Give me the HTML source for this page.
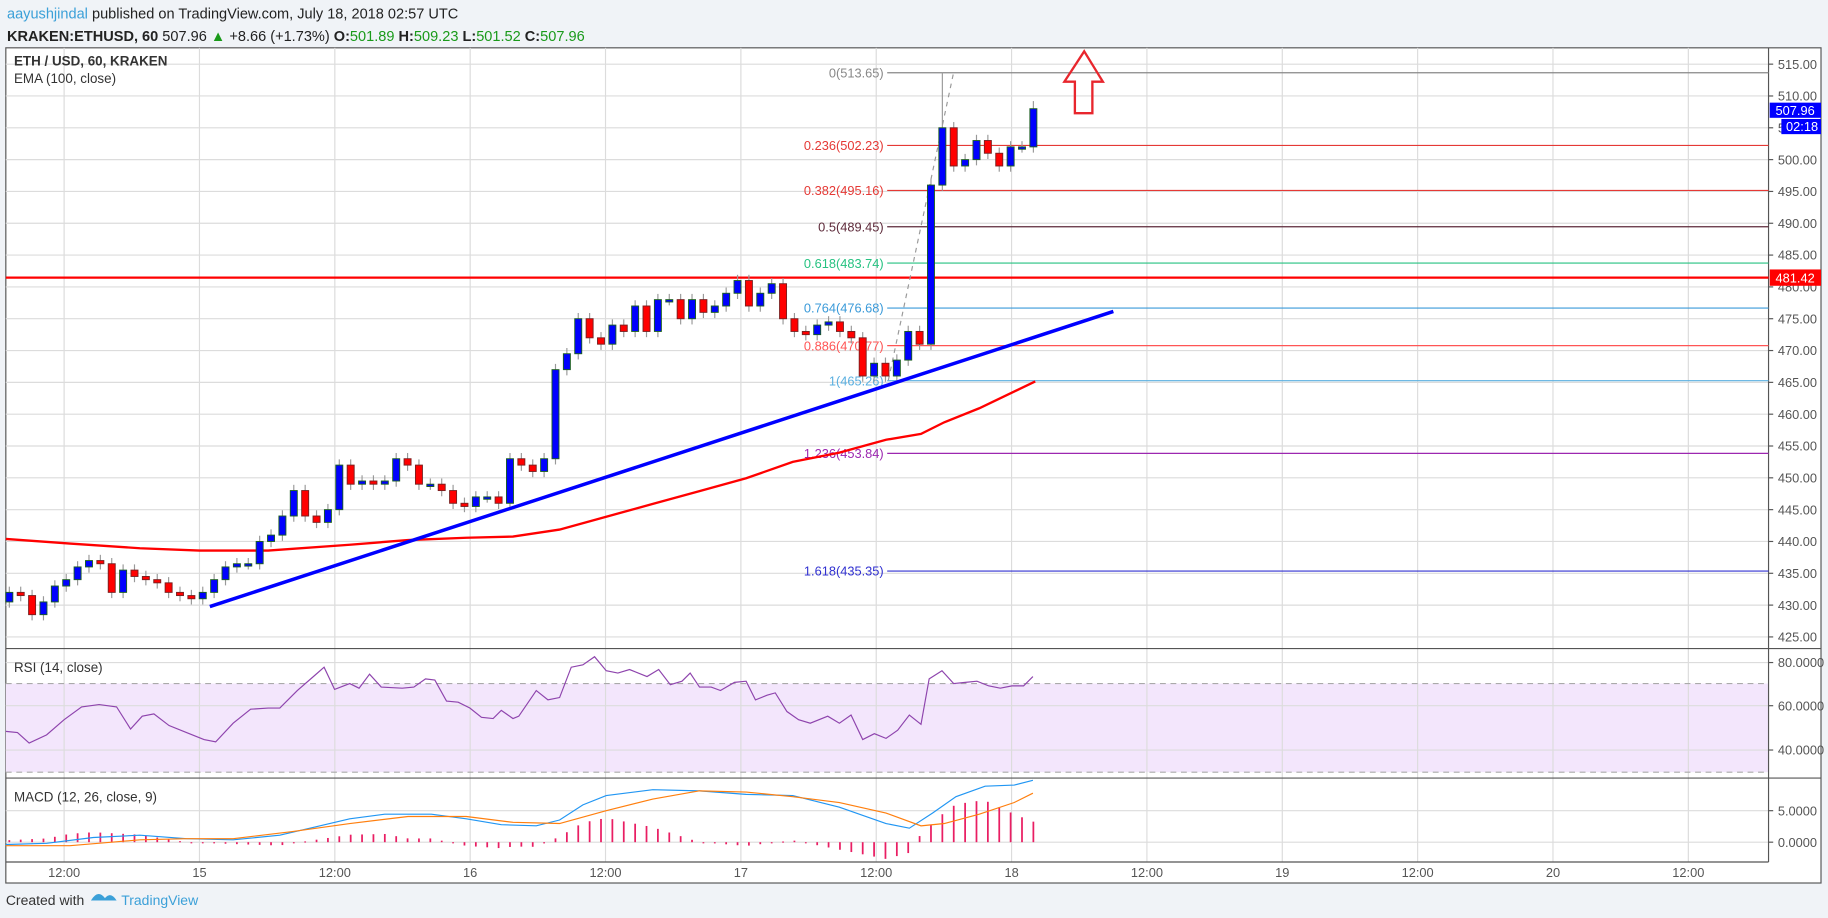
<!DOCTYPE html>
<html><head><meta charset="utf-8">
<style>
html,body{margin:0;padding:0;width:1828px;height:918px;overflow:hidden;background:#f0f3f7;}
svg{display:block;font-family:"Liberation Sans",sans-serif;}
</style></head>
<body>
<svg id="s" width="1828" height="918" viewBox="0 0 1568 787" preserveAspectRatio="none" xmlns="http://www.w3.org/2000/svg">
<rect x="0" y="0" width="1568" height="787" fill="#f0f3f7"/>
<text x="6" y="16" font-size="12.5" fill="#222"><tspan fill="#3ba0d8">aayushjindal</tspan> published on TradingView.com, July 18, 2018 02:57 UTC</text>
<text x="6" y="35" font-size="12.5" fill="#222"><tspan font-weight="bold">KRAKEN:ETHUSD, 60</tspan> 507.96 <tspan fill="#1a9a1a">▲</tspan> +8.66 (+1.73%) <tspan font-weight="bold">O:</tspan><tspan fill="#1a9a1a">501.89</tspan> <tspan font-weight="bold">H:</tspan><tspan fill="#1a9a1a">509.23</tspan> <tspan font-weight="bold">L:</tspan><tspan fill="#1a9a1a">501.52</tspan> <tspan font-weight="bold">C:</tspan><tspan fill="#1a9a1a">507.96</tspan></text>
<rect x="5" y="41" width="1557" height="716" fill="#fff" stroke="#555" stroke-width="1"/>
<rect x="5" y="586" width="1512" height="76" fill="#f3e6fc"/>
<g id="grid" stroke="#dcdcdc" stroke-width="1"></g>
<line x1="5" y1="586" x2="1517" y2="586" stroke="#aaa" stroke-dasharray="5,4"/>
<line x1="5" y1="662" x2="1517" y2="662" stroke="#aaa" stroke-dasharray="5,4"/>
<line x1="5" y1="556" x2="1562" y2="556" stroke="#555"/>
<line x1="5" y1="667" x2="1562" y2="667" stroke="#555"/>
<line x1="5" y1="739" x2="1517" y2="739" stroke="#555"/>
<line x1="1517" y1="41" x2="1517" y2="739" stroke="#555"/>
<g id="axis" font-size="11" fill="#555"></g>
<g id="fib" font-size="11"></g>
<line x1="5" y1="238" x2="1517" y2="238" stroke="#f00" stroke-width="2"/>
<line x1="762" y1="326" x2="818" y2="62" stroke="#999" stroke-dasharray="4,4"/>
<polyline fill="none" stroke="#f00" stroke-width="2" points="5,462 60,466 120,470 171,472 230,472 300,467 350,463 400,461 440,460 480,454 520,443 560,432 600,421 640,410 680,396 720,388 760,377 790,372 810,362 840,350 888,327"/>
<g id="candles"></g>
<line x1="180" y1="520" x2="955" y2="267" stroke="#0000ff" stroke-width="3"/>
<polygon points="930,44 946,70 937,70 937,97 922,97 922,70 913,70" fill="none" stroke="#e8262d" stroke-width="2"/>
<polyline fill="none" stroke="#8e44ad" stroke-width="1" points="5,627 15,628 25,637 40,630 55,617 70,606 85,604 100,606 112,625 122,614 132,612 145,622 160,628 175,634 185,636 200,620 215,608 230,607 240,607 255,592 270,579 278,572 287,591 300,586 308,590 317,578 327,589 345,590 355,589 365,582 373,583 383,601 393,602 403,607 413,615 423,616 430,609 440,616 445,614 460,592 470,600 480,598 490,572 500,570 510,563 520,575 530,577 540,574 555,580 565,574 575,587 585,584 592,577 600,589 610,589 618,592 630,585 640,584 648,600 658,596 665,594 675,610 685,617 695,620 710,614 720,620 730,613 740,634 750,629 760,633 770,626 780,613 790,621 797,582 808,575 818,586 828,585 838,584 848,588 858,590 868,588 878,588 886,580"/>
<g id="hist"></g>
<polyline id="macd" fill="none" stroke="#2196f3" stroke-width="1" points="5,724 40,723 80,718 120,716 160,719 200,720 240,716 270,709 300,702 330,698 370,698 400,702 430,707 460,708 480,703 500,690 520,682 560,677 600,678 640,681 680,682 720,692 760,706 780,710 800,697 820,683 845,674 870,673 886,669"/>
<polyline id="sig" fill="none" stroke="#ff7f0e" stroke-width="1" points="5,725 60,725 120,720 160,719 200,719 250,713 300,706 350,700 400,700 440,705 480,706 520,695 560,685 600,678 640,679 680,683 720,688 760,697 790,708 810,706 840,698 870,688 886,680"/>
<text x="12" y="56" font-size="11.5" font-weight="bold" fill="#333">ETH / USD, 60, KRAKEN</text>
<text x="12" y="71" font-size="11.5" fill="#333">EMA (100, close)</text>
<text x="12" y="576" font-size="11.5" fill="#333">RSI (14, close)</text>
<text x="12" y="687" font-size="11.5" fill="#333">MACD (12, 26, close, 9)</text>
<rect x="1518" y="88" width="44" height="13" fill="#0000ff"/>
<text x="1523" y="98.5" font-size="11" fill="#fff">507.96</text>
<rect x="1528" y="102" width="34" height="13" fill="#0000ff"/>
<text x="1532" y="112.5" font-size="11" fill="#fff">02:18</text>
<rect x="1518" y="231" width="44" height="14" fill="#f00"/>
<text x="1523" y="242" font-size="11" fill="#fff">481.42</text>
<text x="5" y="776" font-size="12" fill="#333">Created with</text>
<path d="M78,772 q6,-10 12,-2 q5,-6 10,2 z" fill="#3ba0d8"/>
<text x="104" y="776" font-size="12" fill="#3ba0d8">TradingView</text>
</svg>
<script>
var NS="http://www.w3.org/2000/svg";
function el(p,t,a,txt){var e=document.createElementNS(NS,t);for(var k in a)e.setAttribute(k,a[k]);if(txt!=null)e.textContent=txt;document.getElementById(p).appendChild(e);return e;}
function Y(p){return 55+(515-p)*5.456;}
for(var p=515;p>=425;p-=5){var y=Y(p);el("grid","line",{x1:5,y1:y,x2:1517,y2:y});el("axis","line",{x1:1517,y1:y,x2:1521,y2:y,stroke:"#555"});el("axis","text",{x:1525,y:y+4},p.toFixed(2));}
[[568,"80.0000"],[605,"60.0000"],[643,"40.0000"],[695,"5.0000"],[722,"0.0000"]].forEach(function(a){el("grid","line",{x1:5,y1:a[0],x2:1517,y2:a[0]});el("axis","line",{x1:1517,y1:a[0],x2:1521,y2:a[0],stroke:"#555"});el("axis","text",{x:1525,y:a[0]+4},a[1]);});
var tl=["12:00","15","12:00","16","12:00","17","12:00","18","12:00","19","12:00","20","12:00"];
for(var i=0;i<tl.length;i++){var x=55+i*116.1;el("grid","line",{x1:x,y1:41,x2:x,y2:739});el("axis","text",{x:x,y:752,"text-anchor":"middle"},tl[i]);}
var fib=[["0",513.65,"#888"],["0.236",502.23,"#e53935"],["0.382",495.16,"#e53935"],["0.5",489.45,"#5d2a3a"],["0.618",483.74,"#26c281"],["0.764",476.68,"#3a9ad9"],["0.886",470.77,"#f55"],["1",465.26,"#5aafe0"],["1.236",453.84,"#9c27b0"],["1.618",435.35,"#3030d0"]];
fib.forEach(function(f){var y=Y(f[1]);el("fib","line",{x1:761,y1:y,x2:1517,y2:y,stroke:f[2],"stroke-width":1});el("fib","text",{x:758,y:y+4,"text-anchor":"end",fill:f[2]},f[0]+"("+f[1].toFixed(2)+")");});
var c=[432,431.5,428.5,430.5,433,434,436,437,436.5,432,435.5,434.5,434,433.5,432,431.5,431,432,434,436,436.5,436.5,440,441,444,448,444,443,445,452,449,449.5,449,449.5,453,452,449,449,448,446,445.5,447,447,446,453,452,451,453,467,469.5,475,472,471,474,473,477,473,478,478,475,478,476,477,479,481,477,479,480.5,475,473,472.5,474,474.5,473,472,466,468,466,468.5,473,471,496,505,499,500,503,501,499,502,502,508];
var prev=430.5;
for(var i=0;i<c.length;i++){var o=prev,cl=c[i];var x=8+i*9.76;var hi=Math.max(o,cl)+0.9,lo=Math.min(o,cl)-0.9;if(i==82)hi=513.65;if(i==90)hi=509.2;
el("candles","line",{x1:x,y1:Y(hi),x2:x,y2:Y(lo),stroke:"#999"});
var bt=Y(Math.max(o,cl)),bh=Math.max(2,Y(Math.min(o,cl))-bt);
el("candles","rect",{x:x-3,y:bt,width:6,height:bh,fill:cl>=o?"#0000ff":"#ff0000",stroke:cl>=o?"#1b5e20":"#7a1f1f","stroke-width":0.8});prev=cl;}
function pts(id){return document.getElementById(id).getAttribute("points").split(" ").map(function(s){return s.split(",").map(Number);});}
function at(P,x){for(var i=1;i<P.length;i++)if(x<=P[i][0]){var a=P[i-1],b=P[i];return a[1]+(b[1]-a[1])*(x-a[0])/(b[0]-a[0]);}return P[P.length-1][1];}
var M=pts("macd"),S=pts("sig");
for(var i=0;i<c.length;i++){var x=8+i*9.76;var d=(at(S,x)-at(M,x))*1.6;var y0=722;el("hist","rect",{x:x-0.75,y:d>0?y0-d:y0,width:1.5,height:Math.max(1,Math.abs(d)),fill:"#e91e63"});}
</script>
</body></html>
